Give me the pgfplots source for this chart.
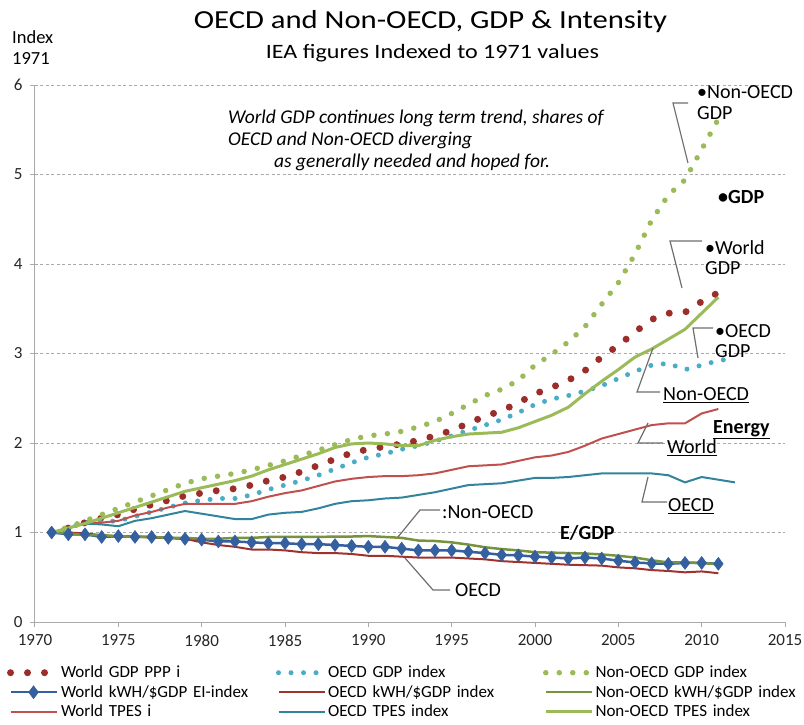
\documentclass[border=0pt]{standalone}
\usepackage{fontspec}
\setmainfont{Carlito}
\newfontfamily\titlefont{Carlito}[FakeStretch=1.18]
\usepackage{pgfplots}
\pgfplotsset{compat=1.18}
\usepackage{pgfplotstable}

\definecolor{wgdp}{RGB}{155,45,42}
\definecolor{ogdp}{RGB}{75,172,198}
\definecolor{ngdp}{RGB}{155,187,89}
\definecolor{wkwh}{RGB}{52,96,160}
\definecolor{okwh}{RGB}{160,50,46}
\definecolor{nkwh}{RGB}{119,147,60}
\definecolor{wtpes}{RGB}{192,80,77}
\definecolor{otpes}{RGB}{49,132,155}
\definecolor{ntpes}{RGB}{155,187,89}
\definecolor{callout}{RGB}{110,110,110}
\definecolor{axgray}{RGB}{170,170,170}

\pgfplotstableread{
year wg og ng wk ok nk wt ot nt
1971 1.00 1.00 1.00 1.00 1.00 1.00 1.00 1.00 1.00
1972 1.05 1.05 1.06 0.98 1.00 0.99 1.05 1.05 1.05
1973 1.11 1.11 1.13 0.98 0.99 0.97 1.10 1.10 1.10
1974 1.16 1.12 1.20 0.95 0.97 0.97 1.11 1.09 1.16
1975 1.20 1.13 1.27 0.96 0.95 0.96 1.13 1.07 1.22
1976 1.26 1.18 1.34 0.95 0.96 0.95 1.19 1.13 1.28
1977 1.31 1.23 1.41 0.95 0.94 0.95 1.23 1.16 1.34
1978 1.36 1.28 1.48 0.94 0.94 0.94 1.28 1.20 1.40
1979 1.41 1.33 1.55 0.93 0.93 0.94 1.32 1.24 1.46
1980 1.44 1.36 1.60 0.92 0.89 0.93 1.32 1.21 1.50
1981 1.47 1.38 1.63 0.90 0.86 0.93 1.32 1.18 1.54
1982 1.49 1.38 1.66 0.90 0.84 0.94 1.32 1.15 1.58
1983 1.53 1.42 1.70 0.89 0.81 0.94 1.35 1.15 1.63
1984 1.58 1.48 1.75 0.88 0.81 0.95 1.40 1.20 1.70
1985 1.62 1.53 1.80 0.88 0.80 0.95 1.44 1.22 1.76
1986 1.68 1.58 1.86 0.87 0.78 0.95 1.47 1.23 1.82
1987 1.75 1.64 1.92 0.87 0.77 0.95 1.52 1.27 1.88
1988 1.82 1.71 1.98 0.86 0.77 0.955 1.57 1.32 1.95
1989 1.89 1.78 2.04 0.85 0.76 0.955 1.60 1.35 1.99
1990 1.93 1.84 2.08 0.84 0.74 0.96 1.62 1.36 2.00
1991 1.96 1.88 2.10 0.84 0.74 0.95 1.63 1.38 1.99
1992 1.99 1.93 2.13 0.82 0.73 0.94 1.63 1.39 1.97
1993 2.03 1.97 2.18 0.80 0.72 0.91 1.64 1.42 1.97
1994 2.08 2.02 2.24 0.80 0.72 0.905 1.66 1.45 2.03
1995 2.14 2.08 2.33 0.80 0.72 0.89 1.70 1.49 2.07
1996 2.22 2.14 2.43 0.785 0.71 0.865 1.74 1.53 2.10
1997 2.30 2.20 2.53 0.77 0.70 0.835 1.75 1.54 2.11
1998 2.36 2.26 2.60 0.75 0.68 0.815 1.76 1.55 2.12
1999 2.45 2.34 2.70 0.745 0.67 0.80 1.80 1.58 2.17
2000 2.55 2.43 2.87 0.73 0.66 0.78 1.84 1.61 2.24
2001 2.62 2.49 2.99 0.72 0.65 0.775 1.86 1.61 2.31
2002 2.70 2.53 3.13 0.71 0.64 0.77 1.90 1.62 2.40
2003 2.81 2.58 3.30 0.72 0.635 0.765 1.97 1.64 2.55
2004 2.96 2.64 3.55 0.71 0.63 0.755 2.05 1.66 2.69
2005 3.09 2.72 3.79 0.685 0.61 0.74 2.10 1.66 2.82
2006 3.24 2.80 4.11 0.665 0.60 0.72 2.15 1.66 2.96
2007 3.38 2.87 4.49 0.655 0.58 0.69 2.20 1.66 3.05
2008 3.45 2.89 4.77 0.65 0.57 0.665 2.22 1.64 3.16
2009 3.46 2.82 4.94 0.66 0.555 0.665 2.22 1.56 3.27
2010 3.58 2.87 5.28 0.66 0.565 0.66 2.33 1.62 3.45
2011 3.68 2.92 5.62 0.65 0.545 0.645 2.38 1.59 3.63
2012 nan 2.95 nan nan nan nan nan 1.56 nan
}\data

\begin{document}
\begin{tikzpicture}
\useasboundingbox (-35pt,-102pt) rectangle (769pt,622pt);
\begin{axis}[
  at={(0pt,0pt)}, anchor=south west,
  scale only axis, width=750pt, height=537pt,
  xmin=1970, xmax=2015, ymin=0, ymax=6,
  axis x line*=bottom, axis y line*=left,
  axis line style={draw=axgray, line width=1pt, -},
  xtick={1970,1975,...,2015}, ytick={0,1,...,6},
  tick align=outside, major tick length=5pt,
  tick style={draw=axgray, line width=1pt},
  ymajorgrids,
  grid style={draw=axgray, line width=0.9pt, dash pattern=on 3pt off 2.5pt},
  ticklabel style={font=\fontsize{17}{17}\selectfont, text=black!85},
  /pgf/number format/assume math mode=true,
  xticklabel style={/pgf/number format/1000 sep={}, yshift=-4pt},
  yticklabel style={xshift=-4pt},
  legend columns=3,
  legend cell align=left,
  legend style={at={(-0.0373,-0.0800)}, anchor=north west, draw=none, fill=none,
    inner sep=0pt, outer sep=0pt, row sep=4pt,
    font=\fontsize{17}{17}\selectfont,
    nodes={inner sep=1pt},
    /tikz/every odd column/.append style={column sep=0pt},
    /tikz/every even column/.append style={text width=214pt, text height=12pt, text depth=4pt}},
  legend image code/.code={\draw[mark repeat=2, mark phase=2, #1] plot coordinates {(0pt,0pt) (23pt,0pt) (46pt,0pt)};},
]
\addplot[color=wgdp, line width=7pt, line cap=round, dash pattern=on 0pt off 17pt] table[x=year, y=wg] {\data};
\addlegendentry{World GDP PPP i}
\addplot[color=ogdp, line width=5pt, line cap=round, dash pattern=on 0pt off 12.5pt] table[x=year, y=og] {\data};
\addlegendentry{OECD GDP index}
\addplot[color=ngdp, line width=5.5pt, line cap=round, dash pattern=on 0pt off 13.5pt] table[x=year, y=ng] {\data};
\addlegendentry{Non-OECD GDP index}
\addplot[color=wkwh, line width=2.5pt, line join=round, mark=diamond*, mark size=6.5pt, mark options={solid, fill=wkwh, draw=wkwh, line width=0.5pt}] table[x=year, y=wk] {\data};
\addlegendentry{World kWH/\$GDP EI-index}
\addplot[color=okwh, line width=2pt, line join=round] table[x=year, y=ok] {\data};
\addlegendentry{OECD kWH/\$GDP index}
\addplot[color=nkwh, line width=2.5pt, line join=round] table[x=year, y=nk] {\data};
\addlegendentry{Non-OECD kWH/\$GDP index}
\addplot[color=wtpes, line width=2pt, line join=round] table[x=year, y=wt] {\data};
\addlegendentry{World TPES i}
\addplot[color=otpes, line width=2pt, line join=round] table[x=year, y=ot] {\data};
\addlegendentry{OECD TPES index}
\addplot[color=ntpes, line width=3pt, line join=round] table[x=year, y=nt] {\data};
\addlegendentry{Non-OECD TPES index}
\end{axis}

% titles
\node[anchor=base, inner sep=0pt] at (395.5pt,593.7pt) {\titlefont\fontsize{26}{26}\selectfont OECD and Non-OECD, GDP \& Intensity};
\node[anchor=base, inner sep=0pt] at (397.5pt,563.7pt) {\titlefont\fontsize{20.4}{20.4}\selectfont IEA figures Indexed to 1971 values};
\node[anchor=base west, inner sep=0pt] at (-23pt,578.7pt) {\fontsize{18.5}{18.5}\selectfont Index};
\node[anchor=base west, inner sep=0pt] at (-23pt,557pt) {\fontsize{18.5}{18.5}\selectfont 1971};

% italic comment
\begin{scope}[every node/.style={anchor=base west, inner sep=0pt, font=\fontsize{19.5}{19.5}\selectfont\itshape}]
\node at (193pt,498.7pt) {World GDP continues long term trend, shares of};
\node at (193pt,476.7pt) {OECD and Non-OECD diverging};
\node at (239pt,454.7pt) {as generally needed and hoped for.};
\end{scope}

% callout labels
\begin{scope}[every node/.style={anchor=base west, inner sep=0pt, font=\fontsize{20}{20}\selectfont}]
\node at (662pt,523.7pt) {•Non-OECD};
\node at (662pt,502.7pt) {GDP};
\node at (683pt,418.7pt) {\bfseries •GDP};
\node at (670pt,367pt) {•World};
\node at (670pt,347pt) {GDP};
\node at (680pt,284pt) {•OECD};
\node at (680pt,265pt) {GDP};
\node at (628pt,221.3pt) {\underline{Non-OECD}};
\node at (678pt,188.7pt) {\bfseries\underline{Energy}};
\node at (632pt,168.7pt) {\underline{World}};
\node at (633pt,110.3pt) {\underline{OECD}};
\node at (407pt,103.7pt) {:Non-OECD};
\node at (525pt,82.7pt) {\bfseries E/GDP};
\node at (420pt,26pt) {OECD};
\end{scope}

\begin{scope}[draw=callout, line width=1.2pt]
\draw (653pt,519pt) -- (638pt,519pt) -- (653pt,459pt);
\draw (667pt,381pt) -- (635pt,381pt) -- (647pt,334pt);
\draw (678pt,294pt) -- (658pt,294pt) -- (663pt,264pt);
\draw (618pt,274pt) -- (602pt,230pt) -- (625pt,230pt);
\draw (613pt,199pt) -- (603pt,179pt) -- (628pt,179pt);
\draw (613pt,145pt) -- (607pt,120pt) -- (632pt,120pt);
\draw (405pt,112pt) -- (385pt,112pt) -- (363pt,85pt);
\draw (370pt,64pt) -- (398pt,32pt) -- (415pt,32pt);
\end{scope}
\end{tikzpicture}
\end{document}
